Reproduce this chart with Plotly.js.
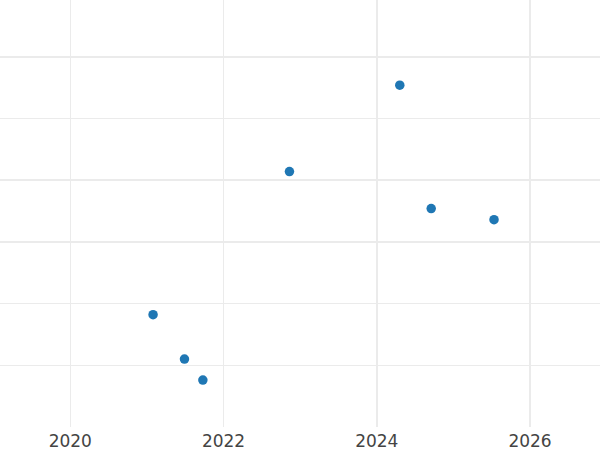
<!DOCTYPE html>
<html>
<head>
<meta charset="utf-8">
<script src="https://cdn.plot.ly/plotly-3.0.1.min.js"></script>
<style>html,body{margin:0;padding:0;background:#fff;}#chart{width:600px;height:450px;}</style>
</head>
<body>
<div id="chart"></div>
<script>
var years = [2024.30, 2022.86, 2024.71, 2025.53, 2021.08, 2021.49, 2021.73];
var values = [5.54, 4.14, 3.54, 3.36, 1.82, 1.10, 0.76];
var xTickVals = [2020, 2022, 2024, 2026];
var xTickText = ["2020", "2022", "2024", "2026"];

var trace = {
  x: years,
  y: values,
  mode: "markers",
  type: "scatter",
  marker: {color: "#1f77b4", size: 9.5}
};

var layout = {
  width: 600,
  height: 450,
  margin: {l: 0, r: 0, t: 0, b: 22.5, pad: 0},
  paper_bgcolor: "#ffffff",
  plot_bgcolor: "#ffffff",
  showlegend: false,
  font: {family: "DejaVu Sans, sans-serif", color: "#444444"},
  xaxis: {
    range: [2019.0825, 2026.913],
    tickvals: xTickVals,
    ticktext: xTickText,
    showgrid: true,
    gridcolor: "#ebebeb",
    gridwidth: 1.5,
    zeroline: false,
    showline: false,
    ticks: "",
    ticklabelstandoff: 2,
    tickfont: {size: 17, color: "#444444"},
    automargin: false
  },
  yaxis: {
    range: [0, 6.92],
    dtick: 1,
    tick0: 0,
    showgrid: true,
    gridcolor: "#ebebeb",
    gridwidth: 1.5,
    zeroline: false,
    showline: false,
    showticklabels: false,
    ticks: "",
    automargin: false
  }
};

Plotly.newPlot("chart", [trace], layout, {displayModeBar: false, staticPlot: true});
</script>
</body>
</html>
